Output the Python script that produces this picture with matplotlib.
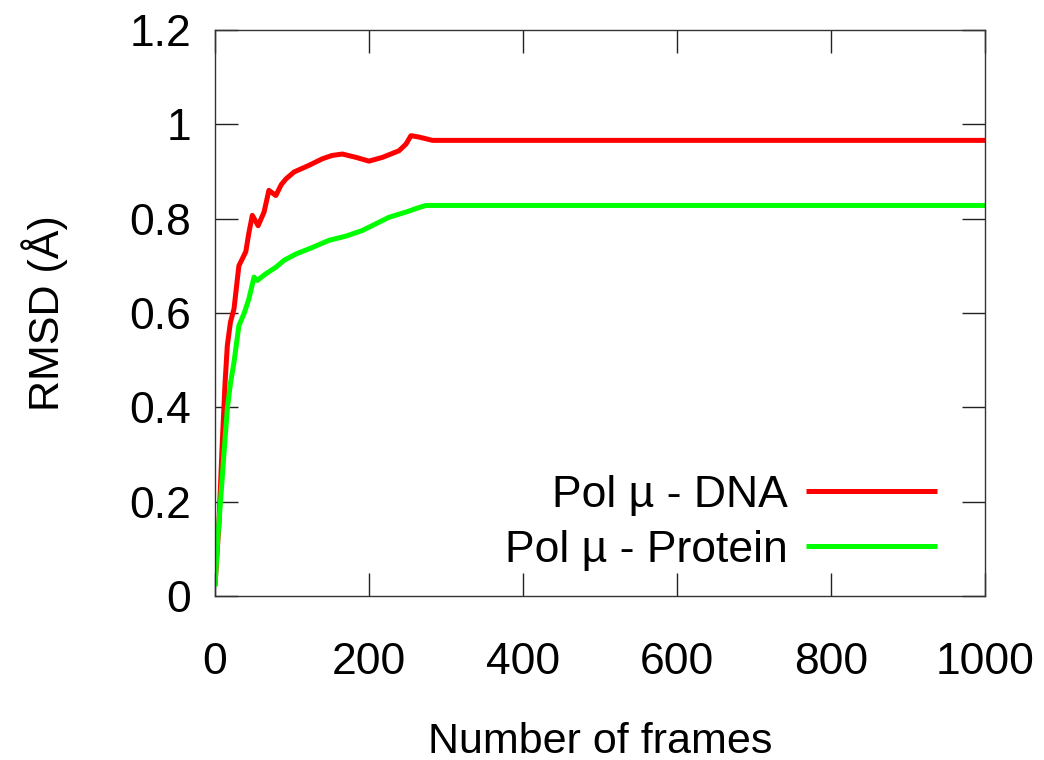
import matplotlib
matplotlib.use("Agg")
import matplotlib.pyplot as plt

plt.rcParams['font.family'] = ['Liberation Sans', 'DejaVu Sans']

# Pol mu - DNA
dna_x = [0, 5, 9.5, 13, 16, 20, 24.7, 31, 40, 44, 48.5, 56, 63.7, 70, 79, 86, 92, 102.7,
         122, 139.5, 152, 165.5, 183, 200, 217.5, 239, 248, 254.5, 265, 282.5, 1000]
dna_y = [0.022, 0.15, 0.327, 0.45, 0.531, 0.58, 0.609, 0.70, 0.73, 0.77, 0.807, 0.785,
         0.814, 0.86, 0.849, 0.872, 0.884, 0.899, 0.913, 0.927, 0.934, 0.937, 0.930,
         0.922, 0.930, 0.944, 0.958, 0.976, 0.973, 0.966, 0.966]

# Pol mu - Protein
prot_x = [0, 3.5, 7.4, 12, 16, 20, 24.7, 31, 38, 44, 50.7, 55, 65, 79, 90, 105, 125,
          148, 170, 191.5, 210, 226, 250, 262, 274, 1000]
prot_y = [0.02, 0.12, 0.206, 0.31, 0.397, 0.45, 0.496, 0.573, 0.60, 0.63, 0.676, 0.669,
          0.682, 0.697, 0.712, 0.725, 0.738, 0.754, 0.763, 0.775, 0.790, 0.803, 0.815,
          0.822, 0.828, 0.828]

xticks = [0, 200, 400, 600, 800, 1000]
yticks = [0, 0.2, 0.4, 0.6, 0.8, 1.0, 1.2]
yticklabels = ['0', '0.2', '0.4', '0.6', '0.8', '1', '1.2']

fig = plt.figure(figsize=(10.44, 7.6), dpi=100)
ax = fig.add_axes([215/1044, (760-596)/760, 770/1044, 566/760])

ax.plot(dna_x, dna_y, color='#ff0000', lw=3.6, label='Pol µ - DNA',
        solid_joinstyle='round', solid_capstyle='butt')
ax.plot(prot_x, prot_y, color='#00ff00', lw=3.6, label='Pol µ - Protein',
        solid_joinstyle='round', solid_capstyle='butt')

ax.set_xlim(0, 1000)
ax.set_ylim(0, 1.2)
ax.set_xticks(xticks)
ax.set_xticklabels([str(t) for t in xticks])
ax.set_yticks(yticks)
ax.set_yticklabels(yticklabels)

ax.tick_params(direction='in', length=16.5, width=1, top=True, right=True,
               labelsize=32, colors='#222222', labelcolor='black')
ax.tick_params(axis='x', pad=33)
ax.tick_params(axis='y', pad=17)
for s in ax.spines.values():
    s.set_color('#333333')
    s.set_linewidth(1)

ax.set_xlabel('Number of frames', fontsize=31, labelpad=28)
ax.set_ylabel('RMSD (Å)', fontsize=31, labelpad=44)

leg = ax.legend(loc='lower right', bbox_to_anchor=(0.9377, 0.045), frameon=False,
                fontsize=32, markerfirst=False, handlelength=2.95, handletextpad=0.42,
                labelspacing=0.31, borderaxespad=0, borderpad=0)
leg._legend_box.align = 'right'
for t in leg.get_texts():
    t.set_ha('right')

fig.savefig('out.png', dpi=100)
